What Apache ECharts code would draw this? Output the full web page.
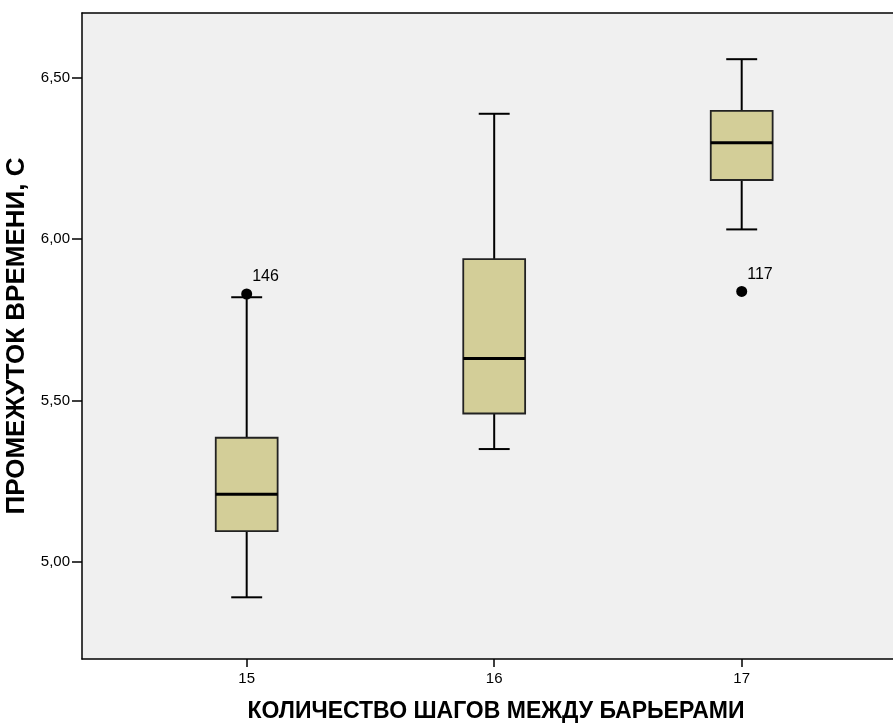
<!DOCTYPE html>
<html>
<head>
<meta charset="utf-8">
<title>Промежуток времени по количеству шагов</title>
<script src="https://cdn.jsdelivr.net/npm/echarts@6/dist/echarts.min.js"></script>
<style>
  html, body { margin: 0; padding: 0; background: #ffffff; }
  #chart { width: 893px; height: 727px; }
</style>
</head>
<body>
<div id="chart"></div>
<script>
// Groups: number of steps between hurdles
const groups = [15, 16, 17];
// Five-number summaries per group (seconds)
const lowWhisker = [4.891, 5.350, 6.030];
const lowerQuartile = [5.096, 5.460, 6.183];
const median = [5.210, 5.630, 6.298];
const upperQuartile = [5.385, 5.938, 6.397];
const highWhisker = [5.820, 6.388, 6.557];
// Outlying cases
const outlierGroup = [15, 17];
const outlierValue = [5.830, 5.838];
const outlierCase = ['146', '117'];
// Axis tick positions
const xTicks = [15, 16, 17];
const yTicks = [5.0, 5.5, 6.0, 6.5];

const FONT = 'Arial, "Liberation Sans", sans-serif';
const BOX_WIDTH = 0.25; // in group units
const X_MIN = 14.3346;
const X_MAX = 17.6113;

const boxData = groups.map((g, i) => [g, lowWhisker[i], lowerQuartile[i], median[i], upperQuartile[i], highWhisker[i]]);
const outlierData = outlierGroup.map((g, i) => [g, outlierValue[i], outlierCase[i]]);

const chart = echarts.init(document.getElementById('chart'), null, { renderer: 'canvas' });

chart.setOption({
  animation: false,
  backgroundColor: '#ffffff',
  grid: {
    left: 82,
    top: 13,
    right: 0,
    bottom: 68,
    outerBoundsMode: 'none',
    containLabel: false,
    show: true,
    backgroundColor: '#F0F0F0',
    borderWidth: 0
  },
  xAxis: [
    {
      type: 'value',
      min: X_MIN,
      max: X_MAX,
      name: 'КОЛИЧЕСТВО ШАГОВ МЕЖДУ БАРЬЕРАМИ',
      nameLocation: 'middle',
      nameGap: 41,
      nameTextStyle: {
        fontFamily: FONT, fontSize: 23, fontWeight: 'bold', color: '#000',
        verticalAlign: 'top', padding: [0, 0, 0, 17]
      },
      axisLine: { show: true, lineStyle: { color: '#000', width: 1.5 } },
      axisTick: { show: true, length: 8, customValues: xTicks, lineStyle: { color: '#000', width: 1.5 } },
      axisLabel: { customValues: xTicks, margin: 12, fontFamily: FONT, fontSize: 15, color: '#000' },
      splitLine: { show: false }
    },
    {
      // top frame line of the plot area
      type: 'value',
      position: 'top',
      min: X_MIN,
      max: X_MAX,
      axisLine: { show: true, lineStyle: { color: '#000', width: 1.5 } },
      axisTick: { show: false },
      axisLabel: { show: false },
      splitLine: { show: false }
    }
  ],
  yAxis: {
    type: 'value',
    min: 4.7,
    max: 6.7,
    name: 'ПРОМЕЖУТОК ВРЕМЕНИ, С',
    nameLocation: 'middle',
    nameGap: 43,
    nameTextStyle: { fontFamily: FONT, fontSize: 26, fontWeight: 'bold', color: '#000' },
    axisLine: { show: true, lineStyle: { color: '#000', width: 1.5 } },
    axisTick: { show: true, length: 10, customValues: yTicks, lineStyle: { color: '#000', width: 1.5 } },
    axisLabel: {
      customValues: yTicks,
      margin: 12,
      fontFamily: FONT,
      fontSize: 15,
      color: '#000',
      formatter: v => v.toFixed(2).replace('.', ',')
    },
    splitLine: { show: false }
  },
  series: [
    {
      type: 'custom',
      data: boxData,
      encode: { x: 0, y: [1, 2, 3, 4, 5] },
      renderItem: function (params, api) {
        const g = api.value(0);
        const lo = api.coord([g, api.value(1)]);
        const q1 = api.coord([g, api.value(2)]);
        const med = api.coord([g, api.value(3)]);
        const q3 = api.coord([g, api.value(4)]);
        const hi = api.coord([g, api.value(5)]);
        const w = api.size([BOX_WIDTH, 0])[0];
        const cx = med[0];
        const capHalf = w / 4;
        const whisker = { stroke: '#000', lineWidth: 2 };
        return {
          type: 'group',
          children: [
            { type: 'line', shape: { x1: cx, y1: hi[1], x2: cx, y2: q3[1] }, style: whisker },
            { type: 'line', shape: { x1: cx, y1: q1[1], x2: cx, y2: lo[1] }, style: whisker },
            { type: 'line', shape: { x1: cx - capHalf, y1: hi[1], x2: cx + capHalf, y2: hi[1] }, style: whisker },
            { type: 'line', shape: { x1: cx - capHalf, y1: lo[1], x2: cx + capHalf, y2: lo[1] }, style: whisker },
            {
              type: 'rect',
              shape: { x: cx - w / 2, y: q3[1], width: w, height: q1[1] - q3[1] },
              style: { fill: '#D3CE98', stroke: '#222', lineWidth: 1.8 }
            },
            { type: 'line', shape: { x1: cx - w / 2, y1: med[1], x2: cx + w / 2, y2: med[1] }, style: { stroke: '#000', lineWidth: 3 } }
          ]
        };
      },
      z: 2
    },
    {
      type: 'scatter',
      data: outlierData,
      symbol: 'circle',
      symbolSize: 11,
      itemStyle: { color: '#000', opacity: 1 },
      label: {
        show: true,
        position: 'right',
        distance: 0,
        offset: [0, -17],
        formatter: p => p.value[2],
        fontFamily: FONT,
        fontSize: 16,
        color: '#000'
      },
      z: 3
    }
  ]
});
</script>
</body>
</html>
